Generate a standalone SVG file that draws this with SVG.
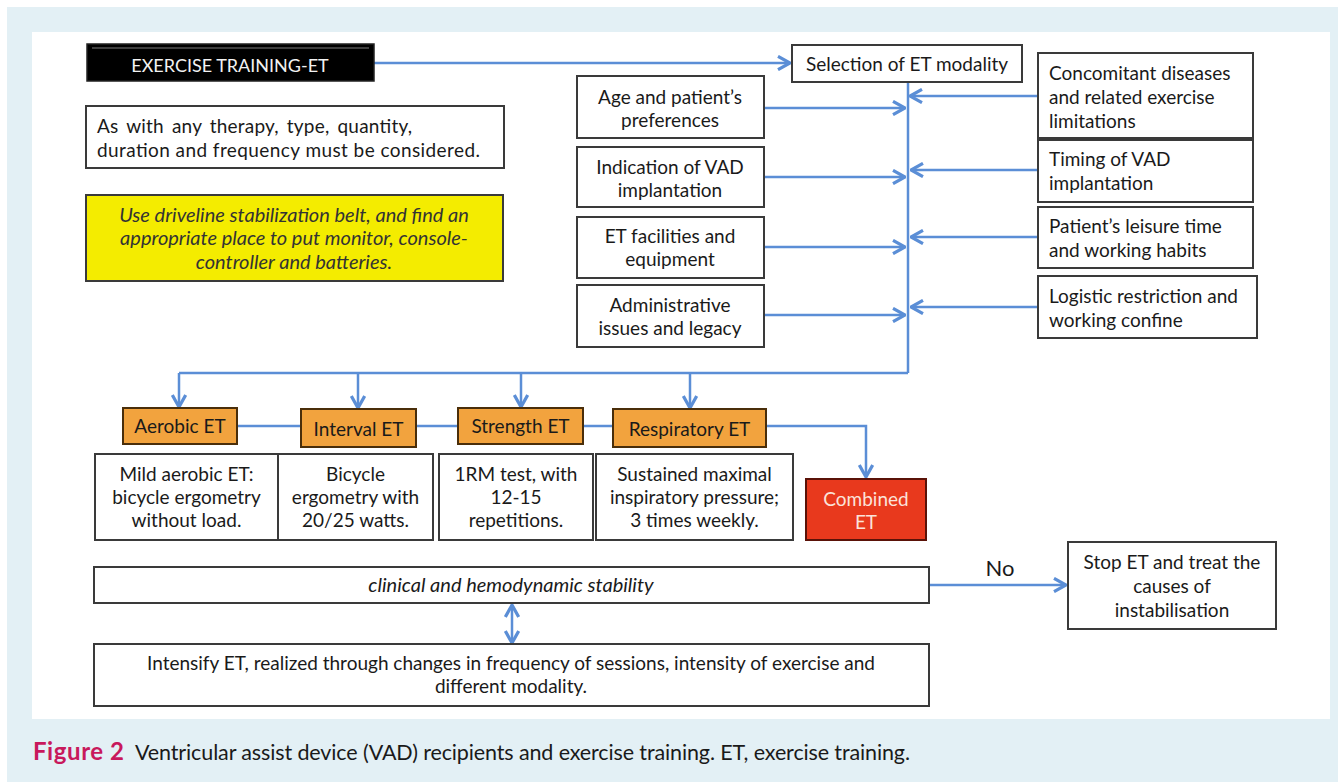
<svg xmlns="http://www.w3.org/2000/svg" width="1338" height="782" viewBox="0 0 1338 782">
<defs>
<marker id="arr" markerUnits="userSpaceOnUse" markerWidth="16" markerHeight="16" viewBox="0 0 12 12" refX="11" refY="6" orient="auto-start-reverse">
<path d="M2,1 L11,6 L2,11" fill="none" stroke="#5b8ed6" stroke-width="2.4"/>
</marker>
</defs>
<style>
.bg{fill:#e3f0f5}
.box{fill:#ffffff;stroke:#3a3a3a;stroke-width:2}
.orange{fill:#f2a33e;stroke:#4a2e0a;stroke-width:2}
.red{fill:#e8391d;stroke:#5a1208;stroke-width:2}
.yellow{fill:#f4ec00;stroke:#3a3a3a;stroke-width:2}
.c{fill:none;stroke:#5b8ed6;stroke-width:2.5}
.t{font-family:Lato,"Liberation Sans",sans-serif;font-size:19px;fill:#1a1a1a}
.m{text-anchor:middle}
.i{font-style:italic;font-size:20px}
</style>
<rect x="0" y="0" width="1338" height="782" fill="#ffffff"/>
<rect class="bg" x="7" y="7" width="1331" height="775"/>
<rect x="32" y="32" width="1298" height="687" fill="#ffffff"/>

<g id="connectors">
<path class="c" d="M374,63 H790" marker-end="url(#arr)"/>
<path class="c" d="M908,82 V373"/>
<path class="c" d="M764,108 H905" marker-end="url(#arr)"/>
<path class="c" d="M764,177 H905" marker-end="url(#arr)"/>
<path class="c" d="M764,247 H905" marker-end="url(#arr)"/>
<path class="c" d="M764,315 H905" marker-end="url(#arr)"/>
<path class="c" d="M1038,96 H910" marker-end="url(#arr)"/>
<path class="c" d="M1038,170 H911" marker-end="url(#arr)"/>
<path class="c" d="M1038,237 H911" marker-end="url(#arr)"/>
<path class="c" d="M1038,307 H911" marker-end="url(#arr)"/>
<path class="c" d="M179,373 H908"/>
<path class="c" d="M179,373 V407" marker-end="url(#arr)"/>
<path class="c" d="M358,373 V408" marker-end="url(#arr)"/>
<path class="c" d="M521,373 V407" marker-end="url(#arr)"/>
<path class="c" d="M690,373 V408" marker-end="url(#arr)"/>
<path class="c" d="M237,426 H301"/>
<path class="c" d="M416,426 H458"/>
<path class="c" d="M583,426 H613"/>
<path class="c" d="M766,426 H866 V477" marker-end="url(#arr)"/>
<path class="c" d="M512,605 V643" marker-start="url(#arr)" marker-end="url(#arr)"/>
<path class="c" d="M929,585 H1066" marker-end="url(#arr)"/>
<text class="t" x="1000" y="576" text-anchor="middle" style="font-size:22px">No</text>
</g>

<g id="exercise-training">
<rect x="87" y="44" width="287" height="37" fill="#000000" stroke="#222" stroke-width="1.5"/>
<line x1="92" y1="48" x2="369" y2="48" stroke="#555" stroke-width="1.5"/>
<text class="t m" x="230" y="72" style="fill:#f2f2f2;font-size:18px">EXERCISE TRAINING-ET</text>
</g>

<g id="therapy-note">
<rect class="box" x="86" y="106" width="418" height="62"/>
<text class="t" x="97" y="133" textLength="315" style="word-spacing:3px">As with any therapy, type, quantity,</text>
<text class="t" x="97" y="157" textLength="383">duration and frequency must be considered.</text>
</g>

<g id="driveline-note">
<rect class="yellow" x="86" y="195" width="417" height="86"/>
<text class="t m i" x="294" y="222" style="fill:#333">Use driveline stabilization belt, and find an</text>
<text class="t m i" x="294" y="245" style="fill:#333">appropriate place to put monitor, console-</text>
<text class="t m i" x="294" y="269" style="fill:#333">controller and batteries.</text>
</g>

<g id="selection">
<rect class="box" x="792" y="45" width="230" height="37"/>
<text class="t m" x="907" y="71">Selection of ET modality</text>
</g>

<g id="age">
<rect class="box" x="577" y="76" width="187" height="62"/>
<text class="t m" x="670" y="104">Age and patient’s</text>
<text class="t m" x="670" y="127">preferences</text>
</g>
<g id="indication">
<rect class="box" x="577" y="147" width="187" height="60"/>
<text class="t m" x="670" y="174">Indication of VAD</text>
<text class="t m" x="670" y="197">implantation</text>
</g>
<g id="facilities">
<rect class="box" x="577" y="217" width="187" height="61"/>
<text class="t m" x="670" y="243">ET facilities and</text>
<text class="t m" x="670" y="266">equipment</text>
</g>
<g id="administrative">
<rect class="box" x="577" y="285" width="187" height="62"/>
<text class="t m" x="670" y="312">Administrative</text>
<text class="t m" x="670" y="335">issues and legacy</text>
</g>

<g id="concomitant">
<rect class="box" x="1038" y="53" width="215" height="85"/>
<text class="t" x="1049" y="80">Concomitant diseases</text>
<text class="t" x="1049" y="104">and related exercise</text>
<text class="t" x="1049" y="128">limitations</text>
</g>
<g id="timing">
<rect class="box" x="1038" y="140" width="215" height="62"/>
<text class="t" x="1049" y="166">Timing of VAD</text>
<text class="t" x="1049" y="190">implantation</text>
</g>
<g id="leisure">
<rect class="box" x="1038" y="207" width="215" height="61"/>
<text class="t" x="1049" y="233">Patient’s leisure time</text>
<text class="t" x="1049" y="257">and working habits</text>
</g>
<g id="logistic">
<rect class="box" x="1038" y="276" width="219" height="62"/>
<text class="t" x="1049" y="303">Logistic restriction and</text>
<text class="t" x="1049" y="327">working confine</text>
</g>

<g id="aerobic">
<rect class="orange" x="123" y="408" width="114" height="36"/>
<text class="t m" x="180" y="433">Aerobic ET</text>
</g>
<g id="interval">
<rect class="orange" x="301" y="409" width="115" height="38"/>
<text class="t m" x="358.5" y="436">Interval ET</text>
</g>
<g id="strength">
<rect class="orange" x="458" y="408" width="125" height="36"/>
<text class="t m" x="520.5" y="433">Strength ET</text>
</g>
<g id="respiratory">
<rect class="orange" x="613" y="409" width="153" height="38"/>
<text class="t m" x="689.5" y="436">Respiratory ET</text>
</g>

<g id="aerobic-desc">
<rect class="box" x="95" y="454" width="183" height="86"/>
<text class="t m" x="186.5" y="481">Mild aerobic ET:</text>
<text class="t m" x="186.5" y="504">bicycle ergometry</text>
<text class="t m" x="186.5" y="527">without load.</text>
</g>
<g id="interval-desc">
<rect class="box" x="278" y="454" width="155" height="86"/>
<text class="t m" x="355.5" y="481">Bicycle</text>
<text class="t m" x="355.5" y="504">ergometry with</text>
<text class="t m" x="355.5" y="527">20/25 watts.</text>
</g>
<g id="strength-desc">
<rect class="box" x="439" y="454" width="154" height="86"/>
<text class="t m" x="516" y="481">1RM test, with</text>
<text class="t m" x="516" y="504">12-15</text>
<text class="t m" x="516" y="527">repetitions.</text>
</g>
<g id="respiratory-desc">
<rect class="box" x="596" y="454" width="197" height="86"/>
<text class="t m" x="694.5" y="481">Sustained maximal</text>
<text class="t m" x="694.5" y="504">inspiratory pressure;</text>
<text class="t m" x="694.5" y="527">3 times weekly.</text>
</g>
<g id="combined">
<rect class="red" x="806" y="479" width="120" height="61"/>
<text class="t m" x="866" y="506" style="fill:#fbe3da">Combined</text>
<text class="t m" x="866" y="529" style="fill:#fbe3da">ET</text>
</g>

<g id="stability">
<rect class="box" x="94" y="567" width="835" height="36"/>
<text class="t m i" x="511" y="592">clinical and hemodynamic stability</text>
</g>
<g id="intensify">
<rect class="box" x="94" y="644" width="835" height="62"/>
<text class="t m" x="511" y="670">Intensify ET, realized through changes in frequency of sessions, intensity of exercise and</text>
<text class="t m" x="511" y="693">different modality.</text>
</g>
<g id="stop">
<rect class="box" x="1068" y="542" width="208" height="87"/>
<text class="t m" x="1172" y="569">Stop ET and treat the</text>
<text class="t m" x="1172" y="593">causes of</text>
<text class="t m" x="1172" y="617">instabilisation</text>
</g>

<g id="caption">
<text x="33" y="760" textLength="91" style="font-family:Lato,'Liberation Sans',sans-serif;font-size:24px;font-weight:bold;fill:#c8195c">Figure 2</text>
<text x="135" y="760" textLength="775" style="font-family:Lato,'Liberation Sans',sans-serif;font-size:21.5px;fill:#1a1a1a">Ventricular assist device (VAD) recipients and exercise training. ET, exercise training.</text>
</g>
</svg>
